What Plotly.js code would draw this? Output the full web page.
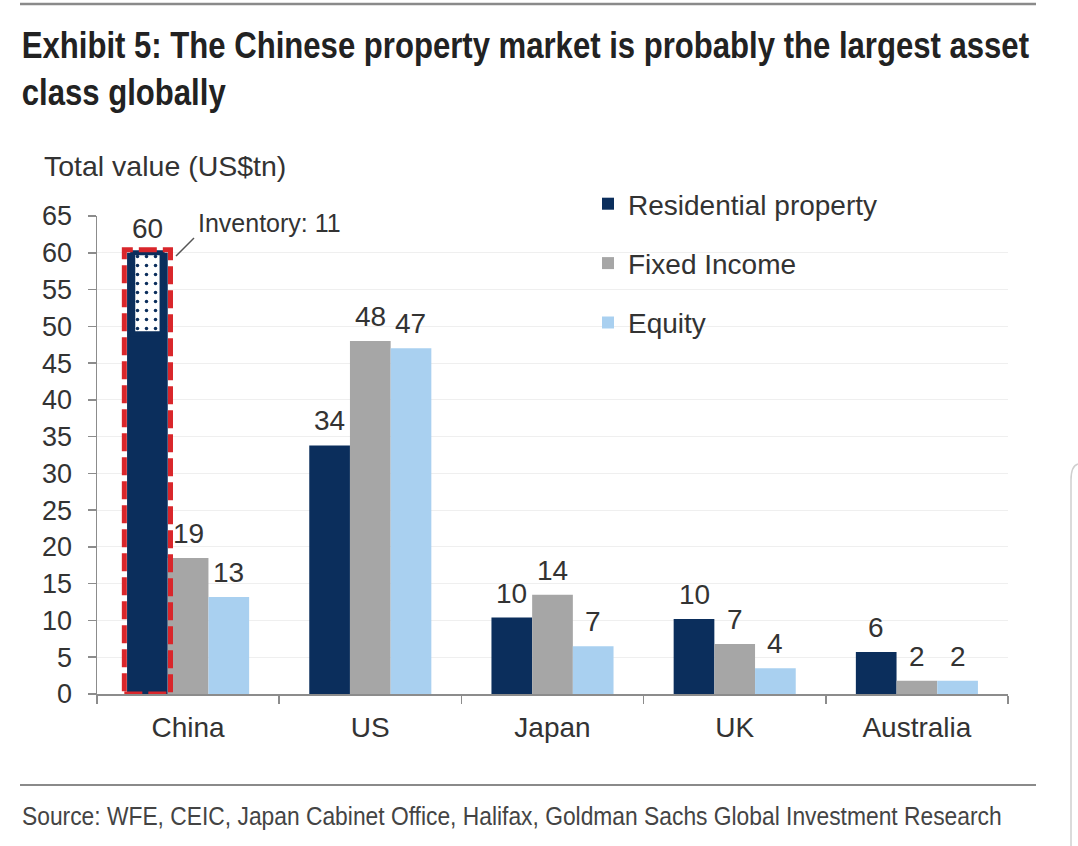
<!DOCTYPE html>
<html>
<head>
<meta charset="utf-8">
<script src="https://cdn.plot.ly/plotly-3.0.1.min.js"></script>
<style>
  html, body { margin: 0; padding: 0; background: #ffffff; }
  #chart { width: 1078px; height: 846px; }
</style>
</head>
<body>
<div id="chart"></div>
<script>
// ---- data ----
const categories = ['China', 'US', 'Japan', 'UK', 'Australia'];
const residential = [60, 33.8, 10.4, 10.2, 5.7];
const fixedIncome = [18.5, 48, 13.5, 6.8, 1.8];
const equity = [13.2, 47, 6.5, 3.5, 1.8];
const residentialLabels = ['60', '34', '10', '10', '6'];
const fixedIncomeLabels = ['19', '48', '14', '7', '2'];
const equityLabels = ['13', '47', '7', '4', '2'];
const chinaInventory = 11;
const inventoryLabel = 'Inventory: 11';
const yTicks = [0, 5, 10, 15, 20, 25, 30, 35, 40, 45, 50, 55, 60, 65];

// ---- style ----
const NAVY = '#0b2e5c';
const GREY = '#a6a6a6';
const LIGHT = '#a9d0f0';
const TEXT = '#333333';
const FONT = 'Liberation Sans, Arial, sans-serif';

const W = 1078, H = 846;
const L = 97, R = 1008, T = 216, B = 694;
const px = x => (x - L) / (R - L);
const py = y => (B - y) / (B - T);

const bargap = 0.33;
const barW = (1 - bargap) / 3;
const resOffset = -(1 - bargap) / 2; // left edge of residential bar relative to category centre

function barTrace(name, y, color) {
  return {
    type: 'bar', name: name, x: categories, y: y,
    marker: { color: color, line: { width: 0 } },
    cliponaxis: false, hoverinfo: 'skip',
    legendgroup: name
  };
}

const traces = [
  barTrace('Residential property', residential, NAVY),
  barTrace('Fixed Income', fixedIncome, GREY),
  barTrace('Equity', equity, LIGHT),
  {
    type: 'bar', x: [categories[0]], y: [chinaInventory],
    base: [residential[0] - chinaInventory],
    xaxis: 'x2', showlegend: false, hoverinfo: 'skip',
    width: barW * 0.72, offset: resOffset + barW * 0.14,
    marker: {
      color: '#ffffff',
      line: { color: NAVY, width: 5 },
      pattern: { shape: '.', fgcolor: NAVY, bgcolor: '#ffffff', size: 9, solidity: 0.12 }
    }
  }
];

// value labels above each bar, positioned on the data axes
const valueLabels = [];
[[residential, residentialLabels], [fixedIncome, fixedIncomeLabels], [equity, equityLabels]].forEach(function (s, k) {
  s[0].forEach(function (v, i) {
    valueLabels.push({
      xref: 'x', yref: 'y', x: i + (k - 1) * barW, y: v,
      xanchor: 'center', yanchor: 'bottom', yshift: 7,
      showarrow: false, text: s[1][i],
      font: { family: FONT, size: 28, color: TEXT }
    });
  });
});

const layout = {
  width: W, height: H,
  paper_bgcolor: '#ffffff', plot_bgcolor: '#ffffff',
  margin: { l: L, r: W - R, t: T, b: H - B, pad: 0 },
  barmode: 'group', bargap: bargap, bargroupgap: 0,
  font: { family: FONT, color: TEXT },
  xaxis: {
    type: 'category', categoryorder: 'array', categoryarray: categories,
    range: [-0.5, 4.5], fixedrange: true,
    showline: true, linecolor: '#8c8c8c', linewidth: 1.5,
    ticks: 'outside', tickson: 'boundaries', ticklen: 8, tickcolor: '#8c8c8c', tickwidth: 1.5,
    tickfont: { family: FONT, size: 28, color: TEXT },
    ticklabelstandoff: 8,
    showgrid: false, zeroline: false
  },
  xaxis2: {
    type: 'category', categoryorder: 'array', categoryarray: categories,
    overlaying: 'x', range: [-0.5, 4.5], visible: false, fixedrange: true
  },
  yaxis: {
    range: [0, 65], tickvals: yTicks, fixedrange: true,
    showline: true, linecolor: '#8c8c8c', linewidth: 1.5,
    ticks: 'outside', ticklen: 8, tickcolor: '#8c8c8c', tickwidth: 1.5,
    tickfont: { family: FONT, size: 27, color: TEXT },
    ticklabelstandoff: 10,
    showgrid: true, gridcolor: '#efefef', gridwidth: 1,
    zeroline: false
  },
  showlegend: true,
  legend: {
    x: px(588), y: py(179), xanchor: 'left', yanchor: 'top',
    bgcolor: 'rgba(0,0,0,0)',
    font: { family: FONT, size: 28, color: TEXT },
    traceorder: 'grouped', tracegroupgap: 20,
    itemclick: false, itemdoubleclick: false
  },
  annotations: [
    {
      xref: 'paper', yref: 'paper', x: px(20), y: py(23),
      xanchor: 'left', yanchor: 'top', align: 'left', showarrow: false,
      text: '<b>Exhibit 5: The Chinese property market is probably the largest asset<br>class globally</b>',
      font: { family: FONT, size: 36, color: '#222222' }
    },
    {
      xref: 'paper', yref: 'paper', x: px(42), y: py(166),
      xanchor: 'left', yanchor: 'middle', showarrow: false,
      text: 'Total value (US$tn)',
      font: { family: FONT, size: 28.5, color: TEXT }
    },
    {
      xref: 'paper', yref: 'paper', x: px(196), y: py(223),
      xanchor: 'left', yanchor: 'middle', showarrow: false,
      text: inventoryLabel,
      font: { family: FONT, size: 25, color: TEXT }
    },
    {
      xref: 'paper', yref: 'paper', x: px(20), y: py(816),
      xanchor: 'left', yanchor: 'middle', showarrow: false,
      text: 'Source: WFE, CEIC, Japan Cabinet Office, Halifax, Goldman Sachs Global Investment Research',
      font: { family: FONT, size: 26, color: '#444444' }
    }
  ].concat(valueLabels),
  shapes: [
    // red dashed highlight around China residential bar
    {
      type: 'rect', xref: 'x', yref: 'y',
      x0: 0 + resOffset - 0.015, x1: 0 + resOffset + barW + 0.015,
      y0: 0, y1: residential[0] + 0.4,
      line: { color: '#d9262b', width: 5, dash: '18px,6px' },
      fillcolor: 'rgba(0,0,0,0)', layer: 'above'
    },
    // leader line for inventory label
    {
      type: 'line', xref: 'paper', yref: 'paper',
      x0: px(176), y0: py(256), x1: px(194), y1: py(238),
      line: { color: '#555555', width: 1.5 }
    },
    // top rule
    {
      type: 'line', xref: 'paper', yref: 'paper',
      x0: px(20), y0: py(4), x1: px(1036), y1: py(4),
      line: { color: '#8a8a8a', width: 2.5 }
    },
    // bottom rule
    {
      type: 'line', xref: 'paper', yref: 'paper',
      x0: px(20), y0: py(785), x1: px(1036), y1: py(785),
      line: { color: '#8a8a8a', width: 2 }
    },
    // screenshot edge artefact on the right
    {
      type: 'path', xref: 'paper', yref: 'paper',
      path: 'M ' + px(1071) + ' ' + py(846) + ' L ' + px(1071) + ' ' + py(480) +
            ' Q ' + px(1071) + ' ' + py(466) + ' ' + px(1078) + ' ' + py(464),
      line: { color: '#cfcfcf', width: 1.5 }
    }
  ]
};

function squeeze(el, targetWidth) {
  if (!el) return;
  const r = el.getBoundingClientRect();
  if (!r.width) return;
  const s = targetWidth / r.width;
  const x0 = r.left;
  const prev = el.getAttribute('transform') || '';
  el.setAttribute('transform', 'translate(' + (x0 * (1 - s)) + ',0) scale(' + s + ',1) ' + prev);
}

Plotly.newPlot('chart', traces, layout, { staticPlot: true, displayModeBar: false }).then(function (gd) {
  const anns = gd.querySelectorAll('.annotation');
  anns.forEach(function (a) {
    const t = a.textContent || '';
    if (t.indexOf('Exhibit 5') === 0) squeeze(a, 1010);
    else if (t.indexOf('Source:') === 0) squeeze(a, 983);
  });
});
</script>
</body>
</html>
